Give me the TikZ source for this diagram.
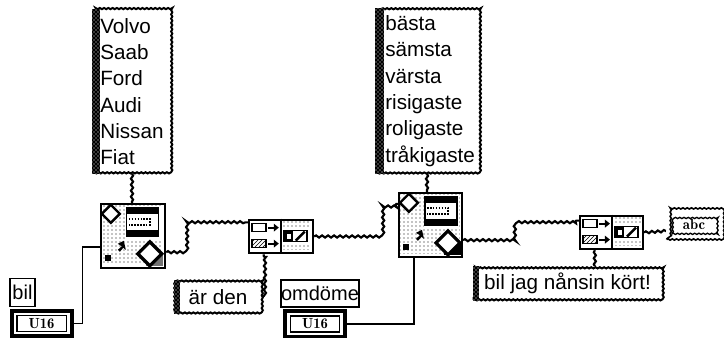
\documentclass[tikz,border=0pt]{standalone}
\usepackage{fontspec}
\setmainfont{Liberation Sans}
\usetikzlibrary{positioning, patterns, decorations.pathmorphing, calc}

\tikzset{
  strframe/.style={draw, line width=1.5pt, decorate, decoration={snake, amplitude=0.45pt, segment length=3.2pt}},
  listbox/.style={strframe, align=left, inner ysep=0pt, font=\fontsize{15.5}{19.7}\selectfont},
  textbox/.style={strframe, inner sep=0pt, font=\fontsize{15.5}{19}\selectfont},
  labelbox/.style={draw, line width=1.3pt, inner sep=0pt, font=\fontsize{15}{18}\selectfont},
  iconbox/.style={draw, line width=1.8pt, fill=white, inner sep=0pt},
  termbox/.style={draw, line width=3pt, fill=white, inner sep=0pt},
  terminner/.style={draw, line width=1pt, inner sep=0pt, font=\fontfamily{lmr}\bfseries\fontsize{11}{12}\selectfont},
  strwire/.style={line width=1.6pt, decorate, decoration={snake, amplitude=0.8pt, segment length=4.5pt}},
  numwire/.style={line width=1.4pt},
}

\begin{document}
\begin{tikzpicture}[x=0.75pt, y=-0.75pt]
  \useasboundingbox (0,0) rectangle (724,338);

  % string lists
  \node[listbox, minimum width=58.5pt, minimum height=122pt, text width=47.5pt, inner xsep=5.5pt] (carlist) at (132,91.5)
    {Volvo\\Saab\\Ford\\Audi\\Nissan\\Fiat};
  \node[listbox, minimum width=76.5pt, minimum height=123pt, text width=62.5pt, inner xsep=7pt] (ratelist) at (427,91)
    {bästa\\sämsta\\värsta\\risigaste\\roligaste\\tråkigaste};

  % select blocks
  \node[iconbox, minimum width=48pt, minimum height=48pt] (selcar) at (133,236) {};
  \node[iconbox, minimum width=47pt, minimum height=48pt] (selrate) at (430.5,225) {};

  % concat blocks
  \node[iconbox, minimum width=48pt, minimum height=25pt] (concatA) at (281,236.5) {};
  \node[iconbox, minimum width=47pt, minimum height=25pt] (concatB) at (611.5,232.5) {};

  % constants
  \node[textbox, minimum width=64.5pt, minimum height=24pt] (arden) at (218,297) {är den};
  \node[textbox, minimum width=141pt, minimum height=24.5pt] (biljag) at (567.5,283.5) {bil jag nånsin kört!};

  % terminals
  \node[labelbox, minimum width=19pt, minimum height=21pt] (billabel) at (22.5,292.5) {bil};
  \node[termbox, minimum width=45pt, minimum height=19pt] (bilterm) at (41.5,323.5) {};
  \node[terminner, minimum width=37pt, minimum height=12pt] (bilnum) at (bilterm.center) {U16};
  \node[labelbox, minimum width=55pt, minimum height=20pt] (omdlabel) at (320,293.5) {omdöme};
  \node[termbox, minimum width=45pt, minimum height=19pt] (omdterm) at (315,324) {};
  \node[terminner, minimum width=37pt, minimum height=12pt] (omdnum) at (omdterm.center) {U16};

  % indicator
  \node[strframe, line width=1.2pt, minimum width=41pt, minimum height=22.5pt] (abc) at (694,224.5) {};
  \node[strframe, line width=1pt, inner sep=0pt, minimum width=33pt, minimum height=14pt,
        font=\fontfamily{lmr}\bfseries\fontsize{11}{12}\selectfont] (abcin) at (abc.center) {abc};

  % dark bands on the left of the constants
  \foreach \b/\w in {carlist/6pt, ratelist/7pt, arden/4.5pt, biljag/4.5pt} {
    \fill (\b.north west) rectangle ([xshift=\w]\b.south west);
    \fill[pattern=crosshatch dots, pattern color=white] (\b.north west) rectangle ([xshift=\w]\b.south west);
  }

  % select icons
  \foreach \b/\c in {selcar/black!55, selrate/black} {
    \begin{scope}[shift={(\b.north west)}]
      \fill[pattern=dots, pattern color=black] (2,2) rectangle (62,62);
      \fill[white] (26,3) rectangle (61,36);
      \fill[\c] (46,50) rectangle (63,63);
      \draw[line width=1.8pt, fill=white] (11,2) -- (20,11) -- (11,20) -- (2,11) -- cycle;
      \draw[line width=1pt, fill=white] (27,5) rectangle (59,34);
      \fill (27,5) rectangle (59,11);
      \fill (27,27) rectangle (59,34);
      \draw[line width=1.2pt, densely dotted] (29,16) -- (50,16) -- (50,22) -- (29,22);
      \draw[line width=2.4pt, fill=white] (50,39) -- (62,51) -- (50,63) -- (38,51) -- cycle;
      \fill (24,38) -- (26,47) -- (23.5,45) -- (20,49) -- (18,47) -- (22,43.5) -- (18,41) -- cycle;
      \fill (5,52) rectangle (11,58);
    \end{scope}
  }

  % concat icons
  \foreach \b in {concatA, concatB} {
    \begin{scope}[shift={(\b.north west)}]
      \draw[line width=1.6pt] (33,0) -- (33,33);
      \draw[line width=1.1pt] (4,5) rectangle (18,13);
      \draw[line width=1.1pt, pattern=north east lines] (4,21) rectangle (18,29);
      \foreach \y in {9, 25} {
        \draw[line width=1.4pt] (20,\y) -- (27,\y);
        \fill (26,\y-4) -- (31,\y) -- (26,\y+4) -- cycle;
      }
      \fill[pattern=dots, pattern color=black] (35,2) rectangle (62,31);
      \fill[white] (35,10) rectangle (62,25);
      \draw[line width=1.1pt] (36,12) rectangle (59,23);
      \fill (36,12) rectangle (45,23);
      \fill[white] (39,15) rectangle (43,20);
      \draw[line width=1.8pt] (48,22) -- (57,13);
    \end{scope}
  }

  % wires
  \draw[strwire] (carlist.south) -- (carlist.south |- selcar.north);
  \draw[strwire] (ratelist.south) -- (ratelist.south |- selrate.north);
  \draw[numwire] (bilterm.east) -- ++(9,0) |- (selcar.199);
  \draw[strwire] (selcar.-26.6) -- ++(18,0) |- (concatA.157);
  \draw[strwire] (arden.east) -| (concatA.-134);
  \draw[strwire] (concatA.east) -- ++(65,0) |- (selrate.147.6);
  \draw[numwire] (omdterm.east) -| (selrate.-116);
  \draw[strwire] (selrate.-25.5) -- ++(51,0) |- (concatB.160);
  \draw[strwire] (biljag.north -| concatB.-133) -- (concatB.-133);
  \draw[strwire] (concatB.east) -- (abc.193.6);
\end{tikzpicture}
\end{document}
